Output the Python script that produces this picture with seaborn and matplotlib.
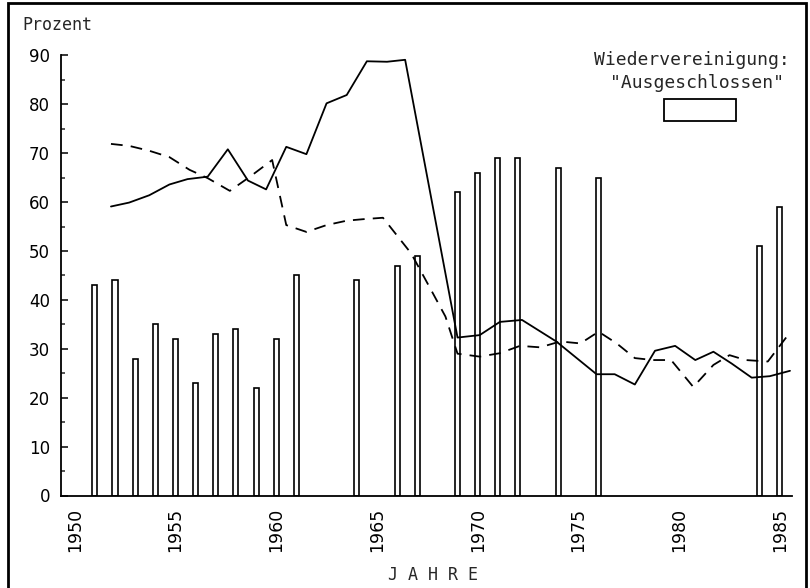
import matplotlib
matplotlib.use("Agg")
import matplotlib.pyplot as plt
import seaborn as sns
from matplotlib.ticker import MultipleLocator
from matplotlib.patches import Rectangle

sns.set_theme(style="white")
plt.rcParams["font.family"] = ["DejaVu Sans"]

# Share answering "Wiedervereinigung ausgeschlossen" (bars, survey years)
bar_years = [1951, 1952, 1953, 1954, 1955, 1956, 1957, 1958, 1959, 1960, 1961,
             1964, 1966, 1967, 1969, 1970, 1971, 1972, 1974, 1976, 1984, 1985]
bar_values = [43, 44, 28, 35, 32, 23, 33, 34, 22, 32, 45,
              44, 47, 49, 62, 66, 69, 69, 67, 65, 51, 59]

# Solid series (survey dates, percent)
solid_dates = [1951.8, 1952.7, 1953.7, 1954.7, 1955.6, 1956.6, 1957.6, 1958.6,
               1959.5, 1960.5, 1961.5, 1962.5, 1963.5, 1964.5, 1965.5, 1966.4,
               1969.0, 1970.1, 1971.1, 1972.2, 1973.9, 1975.9, 1976.8, 1977.8,
               1978.8, 1979.8, 1980.8, 1981.7, 1982.6, 1983.6, 1984.5, 1985.5]
solid_values = [59.1, 59.9, 61.4, 63.6, 64.7, 65.2, 70.8, 64.4,
                62.6, 71.3, 69.8, 80.2, 81.9, 88.8, 88.7, 89.1,
                32.3, 32.8, 35.5, 35.9, 31.5, 24.8, 24.8, 22.7,
                29.6, 30.6, 27.7, 29.4, 27.0, 24.1, 24.4, 25.5]

# Dashed series (survey dates, percent)
dashed_dates = [1951.8, 1952.7, 1953.7, 1954.7, 1955.7, 1956.6, 1957.7, 1958.7,
                1959.8, 1960.5, 1961.5, 1962.5, 1963.5, 1964.3, 1965.3, 1966.7,
                1967.6, 1968.4, 1969.0, 1970.1, 1971.1, 1972.1, 1973.1, 1974.1,
                1975.1, 1976.0, 1976.9, 1977.8, 1978.7, 1979.6, 1980.7, 1981.7,
                1982.5, 1983.3, 1984.4, 1985.4]
dashed_values = [71.9, 71.5, 70.5, 69.2, 66.6, 64.9, 62.3, 65.2,
                 68.6, 55.3, 53.9, 55.3, 56.2, 56.5, 56.8, 49.5,
                 42.7, 36.6, 29.0, 28.4, 29.1, 30.6, 30.3, 31.5,
                 31.1, 33.5, 31.1, 28.1, 27.7, 27.7, 22.2, 26.7,
                 28.7, 27.7, 27.4, 32.8]

x_ticks = [1950, 1955, 1960, 1965, 1970, 1975, 1980, 1985]
y_ticks = [0, 10, 20, 30, 40, 50, 60, 70, 80, 90]

W, H = 810, 588
fig = plt.figure(figsize=(W / 100, H / 100), dpi=100)
fig.patch.set_facecolor("white")
ax = fig.add_axes([61 / W, 1 - 495.5 / H, (792 - 61) / W, (495.5 - 55.4) / H])
ax.set_facecolor("white")

sns.barplot(x=bar_years, y=bar_values, native_scale=True, width=0.25,
            fill=False, color="black", linewidth=1.2, errorbar=None, ax=ax)
sns.lineplot(x=solid_dates, y=solid_values, color="black", linewidth=1.3, ax=ax)
sns.lineplot(x=dashed_dates, y=dashed_values, color="black", linewidth=1.3,
             linestyle=(0, (6.5, 4.5)), ax=ax)

ax.set_xlim(1949.32, 1985.6)
ax.set_ylim(0, 90)
ax.set_xticks(x_ticks)
ax.set_xticklabels([str(t) for t in x_ticks], rotation=90, fontsize=12.5)
ax.set_yticks(y_ticks)
ax.set_yticklabels([str(t) for t in y_ticks], fontsize=12)
ax.yaxis.set_minor_locator(MultipleLocator(5))
ax.tick_params(axis="y", which="major", direction="in", length=5, width=1.1,
               left=True, pad=8, colors="black")
ax.tick_params(axis="y", which="minor", direction="in", length=3, width=1.1,
               left=True)
ax.tick_params(axis="x", length=0, pad=9, colors="black")
ax.set_xlabel("")
ax.set_ylabel("")
for side in ("top", "right"):
    ax.spines[side].set_visible(False)
for side in ("left", "bottom"):
    ax.spines[side].set_color("black")
    ax.spines[side].set_linewidth(1.3)

mono = "DejaVu Sans Mono"
fig.text(22 / W, 1 - 25 / H, "Prozent", family=mono, fontsize=12,
         ha="left", va="center")
fig.text(692 / W, 1 - 60 / H, "Wiedervereinigung:", family=mono, fontsize=13,
         ha="center", va="center")
fig.text(697 / W, 1 - 83 / H, '"Ausgeschlossen"', family=mono, fontsize=13,
         ha="center", va="center")
fig.add_artist(Rectangle((664 / W, 1 - 121 / H), 72 / W, 22 / H,
                         transform=fig.transFigure, fill=False,
                         edgecolor="black", linewidth=1.3))
fig.text(433 / W, 1 - 575 / H, "J A H R E", family=mono, fontsize=12,
         ha="center", va="center")

# outer frame
fig.add_artist(Rectangle((8 / W, -0.1), (806 - 8) / W, 1.1 - 3 / H,
                         transform=fig.transFigure, fill=False,
                         edgecolor="black", linewidth=2))

fig.savefig("out.png", dpi=100, facecolor="white")
